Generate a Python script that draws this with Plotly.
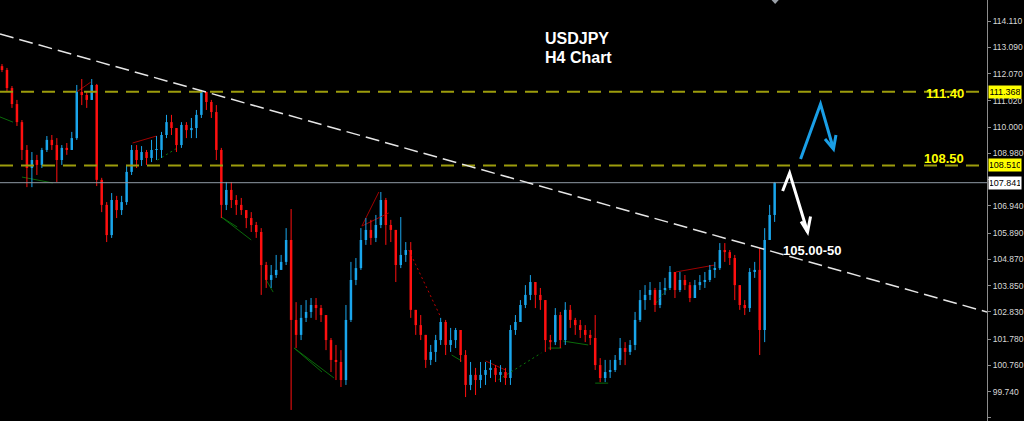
import plotly.graph_objects as go

# ---------------- data (USDJPY, H4 candles) ----------------
first_open = 112.36
close = [112.21,111.51,110.89,110.19,109.11,108.41,108.72,108.53,109.11,109.50,
         109.30,108.72,109.19,109.11,109.57,111.36,111.24,111.05,111.63,107.95,
         106.98,105.81,107.17,106.78,107.09,108.26,109.11,108.72,109.03,108.80,
         109.11,109.11,109.69,110.19,109.96,109.30,110.08,109.88,109.96,110.47,
         111.36,110.97,110.58,109.11,106.98,107.56,107.17,106.98,106.78,106.47,
         106.20,105.93,104.65,104.07,104.26,104.46,104.77,105.62,102.52,101.94,
         102.60,102.83,103.10,102.98,102.71,101.74,100.97,100.89,100.19,102.52,
         104.07,104.53,105.62,106.01,105.70,106.20,107.17,106.20,106.01,104.65,
         105.04,105.23,102.91,102.32,101.94,100.97,101.28,101.74,102.44,101.55,
         101.74,102.13,101.16,100.00,100.39,100.19,100.39,100.58,100.66,100.39,
         100.50,100.27,102.13,102.44,103.10,103.49,103.99,103.49,103.29,101.74,
         101.66,102.71,101.74,102.91,102.52,102.32,102.13,101.94,101.82,100.77,
         100.27,100.50,100.58,100.97,101.43,101.28,101.55,102.52,103.29,103.49,
         103.68,103.10,103.68,103.76,104.38,103.68,104.07,103.87,103.37,103.87,
         103.99,104.07,104.46,104.53,105.23,105.15,104.92,103.87,103.10,102.98,
         104.38,104.46,102.13,105.62,106.59,107.841]
high = [112.44,112.29,111.59,111.05,110.27,109.30,109.03,108.92,109.19,109.65,
        109.69,109.57,109.30,109.38,109.81,111.63,111.86,111.36,111.86,111.67,
        108.03,107.09,107.44,107.33,107.33,108.53,109.30,109.30,109.26,109.11,
        109.50,109.65,109.81,110.47,110.47,109.96,110.19,110.19,110.35,110.66,
        111.44,111.32,111.05,110.85,109.19,107.87,107.87,107.36,107.25,106.78,
        106.70,106.32,106.08,104.77,104.65,105.04,105.04,106.08,106.82,103.21,
        103.10,103.29,103.37,103.37,103.10,102.52,101.82,101.55,101.35,103.10,
        104.77,104.92,106.08,106.47,106.40,106.59,107.48,107.25,106.40,105.93,
        106.51,105.54,105.54,102.83,102.71,101.94,101.55,101.94,102.60,102.52,
        102.21,102.21,102.13,101.35,100.89,100.66,100.89,100.89,100.97,100.77,
        100.77,100.66,102.32,102.71,103.29,103.87,104.26,103.99,103.76,103.29,
        101.94,102.98,102.83,103.21,103.10,102.60,102.52,102.32,102.13,102.71,
        101.04,100.97,100.97,101.16,101.82,101.66,101.74,102.83,103.68,103.87,
        103.99,103.76,103.99,104.15,104.61,104.38,104.38,104.26,103.99,104.07,
        104.26,104.38,104.65,104.77,105.50,105.50,105.23,105.04,103.68,103.29,
        104.53,104.77,105.31,106.08,106.98,107.87]
low = [112.13,111.36,110.74,110.04,108.72,107.67,107.67,108.14,108.41,109.03,
       109.11,107.87,108.53,108.92,109.19,109.50,110.85,110.74,111.05,107.71,
       106.70,105.54,105.70,106.47,106.59,106.98,108.14,108.41,108.49,108.53,
       108.64,108.72,108.80,109.57,109.69,109.03,109.19,109.57,109.57,109.57,
       110.35,110.66,110.35,108.72,106.47,106.78,106.86,106.59,106.59,106.08,
       105.93,105.70,103.49,103.76,103.76,104.15,104.46,104.65,99.03,101.43,
       101.74,102.44,102.60,102.52,102.44,101.35,100.50,100.19,99.92,100.00,
       102.44,103.87,104.46,105.43,105.43,105.54,106.08,105.43,105.54,103.99,
       104.53,104.77,102.60,101.94,101.74,100.66,100.77,100.89,101.55,101.16,
       101.28,101.43,100.89,99.53,99.80,99.61,99.88,100.00,100.27,100.11,
       100.11,100.00,100.00,101.94,102.60,102.98,103.29,102.98,102.91,101.28,
       101.35,101.55,101.43,101.55,102.21,101.94,101.82,101.66,101.55,100.58,
       100.11,100.11,100.27,100.50,100.77,100.77,101.16,101.35,102.44,102.91,
       103.29,102.83,102.98,103.49,103.68,103.37,103.60,103.68,103.21,103.37,
       103.68,103.76,103.99,104.15,104.46,104.77,104.65,103.29,102.91,102.71,
       102.83,104.15,101.16,101.66,105.81,106.32]

# pattern-indicator segments (candle index, price), None separates segments
pattern_red_x = [15, 17.8, None, 26.2, 31, None, 72.2, 75.6, None, 72.2, 77.6, None,
                 97, 101, None, 135.2, 143]
pattern_red_y = [111.36, 111.74, None, 109.38, 109.65, None, 106.16, 107.48, None, 106.16, 106.67, None,
                 100.93, 100.58, None, 104.38, 104.65]
pattern_red_dot_x = [81.6, 88]
pattern_red_dot_y = [105.23, 102.63]
pattern_green_x = [-0.4, 2.2, None, 4, 10.2, None, 44, 50, None, 44, 47.2, None, 53, 54.4, None,
                   58.6, 66.6, None, 58.6, 64.2, None, 90.2, 92.2, None, 109.6, 112.2, None,
                   112.6, 117.6, None, 119, 121.6]
pattern_green_y = [110.39, 110.19, None, 108.06, 107.83, None, 106.51, 105.62, None, 106.51, 106.12, None,
                   104.07, 103.60, None, 101.43, 100.27, None, 101.43, 100.50, None, 101.16, 100.93, None,
                   101.43, 101.43, None, 101.70, 101.55, None, 100.07, 100.07]
pattern_green_dot_x = [31.2, 35.2, None, 99.6, 108.2, None, 131.2, 133.6]
pattern_green_dot_y = [108.72, 109.19, None, 100.20, 101.24, None, 103.18, 103.76]

level_upper = 111.368
level_lower = 108.510
last_price = 107.841
trend_start_price = 113.606
trend_end_price = 102.828
tick_vals = [114.110, 113.090, 112.070, 111.020, 110.000, 108.980, 107.960, 106.940,
             105.890, 104.870, 103.850, 102.830, 101.780, 100.760, 99.740, 98.720]
hidden_ticks = [107.960]
tick_text = ["" if v in hidden_ticks else "%.3f" % v for v in tick_vals]

# ---------------- derived ----------------
idx = list(range(len(close)))
opens = [first_open] + close[:-1]
highs = [max(h, o, c) for h, o, c in zip(high, opens, close)]
lows = [min(l, o, c) for l, o, c in zip(low, opens, close)]

UP = "#1aa6ec"
DOWN = "#ff1010"
PLOT_W = 990.0
PLOT_H = 421.0
X_MIN, X_MAX = -0.4, 197.6
Y_MIN, Y_MAX = 98.602, 114.924
MIN_BODY = 0.035


def px(x):
    return x / PLOT_W


def py(y):
    return 1 - y / PLOT_H


fig = go.Figure()

# pattern lines (behind candles)
fig.add_trace(go.Scatter(x=pattern_red_x, y=pattern_red_y, mode="lines",
                         line=dict(color="#a00000", width=1), hoverinfo="skip"))
fig.add_trace(go.Scatter(x=pattern_red_dot_x, y=pattern_red_dot_y, mode="lines",
                         line=dict(color="#c00000", width=1, dash="2px,3px"), hoverinfo="skip"))
fig.add_trace(go.Scatter(x=pattern_green_x, y=pattern_green_y, mode="lines",
                         line=dict(color="#0a6a0a", width=1), hoverinfo="skip"))
fig.add_trace(go.Scatter(x=pattern_green_dot_x, y=pattern_green_dot_y, mode="lines",
                         line=dict(color="#0a7a0a", width=1, dash="2px,3px"), hoverinfo="skip"))

# candles: wicks as lines, bodies as thin bars
for is_up, col in ((True, UP), (False, DOWN)):
    wx, wy, bx, bb, bh = [], [], [], [], []
    for i, o, h, l, c in zip(idx, opens, highs, lows, close):
        if (c >= o) != is_up:
            continue
        wx += [i, i, None]
        wy += [l, h, None]
        bx.append(i)
        bb.append(min(o, c))
        bh.append(max(abs(c - o), MIN_BODY))
    fig.add_trace(go.Scatter(x=wx, y=wy, mode="lines", line=dict(color=col, width=1),
                             hoverinfo="skip"))
    fig.add_trace(go.Bar(x=bx, y=bh, base=bb, width=0.5, marker=dict(color=col, line=dict(width=0)),
                         hoverinfo="skip"))

shapes = []
for lv in (level_upper, level_lower):
    shapes.append(dict(type="line", xref="paper", x0=0, x1=1, yref="y", y0=lv, y1=lv,
                       line=dict(color="#9c9c0c", width=2, dash="13px,8px"), layer="above"))
shapes.append(dict(type="line", xref="paper", x0=0, x1=1, yref="y", y0=last_price, y1=last_price,
                   line=dict(color="#8f9aa6", width=1), layer="above"))
shapes.append(dict(type="line", xref="x", x0=X_MIN, x1=X_MAX, yref="y",
                   y0=trend_start_price, y1=trend_end_price,
                   line=dict(color="#e6e6e6", width=1.5, dash="14px,6px"), layer="above"))


def path(points):
    return "M " + " L ".join("%.5f,%.5f" % (px(a), py(b)) for a, b in points)


shapes.append(dict(type="path", xref="paper", yref="paper",
                   path=path([(803, 159), (823, 104), (836, 149)]),
                   line=dict(color="#1a9fe6", width=3)))
shapes.append(dict(type="path", xref="paper", yref="paper",
                   path=path([(827.5, 139), (836, 149), (838.5, 135)]),
                   line=dict(color="#1a9fe6", width=3)))
shapes.append(dict(type="path", xref="paper", yref="paper",
                   path=path([(785, 191), (792, 173), (810, 232)]),
                   line=dict(color="#ffffff", width=3)))
shapes.append(dict(type="path", xref="paper", yref="paper",
                   path=path([(803.5, 221.5), (810, 232), (813, 216.5)]),
                   line=dict(color="#ffffff", width=3)))
shapes.append(dict(type="path", xref="paper", yref="paper",
                   path=path([(773, -1), (782, -1), (777.5, 4)]) + " Z",
                   fillcolor="#9aa0a8", line=dict(width=0)))

annotations = [
    dict(text="<b>USDJPY</b>", xref="paper", yref="paper", x=px(579), y=py(27.5),
         showarrow=False, font=dict(family="Liberation Sans", size=16, color="#ffffff")),
    dict(text="<b>H4 Chart</b>", xref="paper", yref="paper", x=px(580), y=py(47),
         showarrow=False, font=dict(family="Liberation Sans", size=16, color="#ffffff")),
    dict(text="<b>111.40</b>", xref="paper", yref="paper", x=px(969), y=py(84),
         xanchor="right", showarrow=False,
         font=dict(family="Liberation Sans", size=13, color="#ffff00")),
    dict(text="<b>108.50</b>", xref="paper", yref="paper", x=px(969), y=py(159),
         xanchor="right", showarrow=False,
         font=dict(family="Liberation Sans", size=13, color="#ffff00")),
    dict(text="<b>105.00-50</b>", xref="paper", yref="paper", x=px(783), y=py(250),
         xanchor="left", showarrow=False,
         font=dict(family="Liberation Sans", size=13, color="#ffffff")),
]
for val, bg in ((level_upper, "#ffff00"), (level_lower, "#ffff00"), (last_price, "#ffffff")):
    annotations.append(dict(text="%.3f" % val, xref="paper", yref="y", x=1, y=val,
                            xanchor="left", xshift=1, showarrow=False, bgcolor=bg,
                            borderpad=1, width=30,
                            font=dict(family="Liberation Sans", size=9, color="#000000")))

fig.update_layout(
    width=1024, height=421,
    margin=dict(l=0, r=34, t=0, b=0),
    paper_bgcolor="#000000", plot_bgcolor="#000000",
    showlegend=False, barmode="overlay",
    xaxis=dict(range=[X_MIN, X_MAX], visible=False, fixedrange=True),
    yaxis=dict(range=[Y_MIN, Y_MAX], side="right", tickvals=tick_vals, ticktext=tick_text,
               showgrid=False, zeroline=False, showline=True, linecolor="#8c8c8c",
               ticks="outside", ticklen=3, tickcolor="#8c8c8c",
               tickfont=dict(family="Liberation Sans", size=8.5, color="#d8d8d8"),
               fixedrange=True),
    shapes=shapes,
    annotations=annotations,
)

fig.write_html("out.html", config={"displayModeBar": False},
               post_script="document.body.style.margin='0';document.body.style.overflow='hidden';")
